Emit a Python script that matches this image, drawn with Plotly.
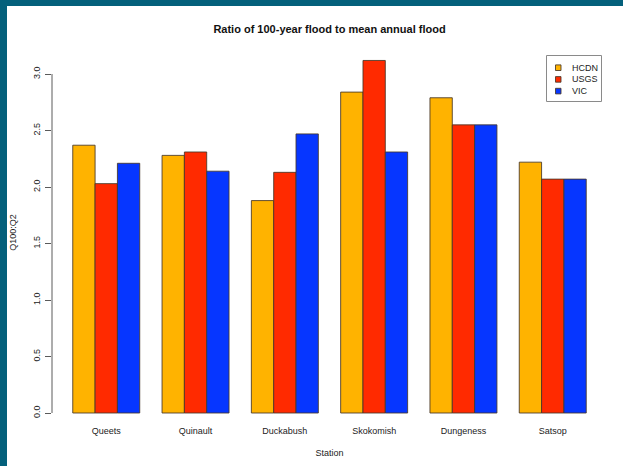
import plotly.graph_objects as go

# Peak-flow ratio (Q100 / Q2) by station and data source
stations = ["Queets", "Quinault", "Duckabush", "Skokomish", "Dungeness", "Satsop"]
series_names = ["HCDN", "USGS", "VIC"]
hcdn = [2.37, 2.28, 1.88, 2.84, 2.79, 2.22]
usgs = [2.03, 2.31, 2.13, 3.12, 2.55, 2.07]
vic = [2.21, 2.14, 2.47, 2.31, 2.55, 2.07]
y_ticks = [0.0, 0.5, 1.0, 1.5, 2.0, 2.5, 3.0]
y_tick_labels = ["0.0", "0.5", "1.0", "1.5", "2.0", "2.5", "3.0"]

colors = ["#FFB300", "#FF2A00", "#0636FF"]
edge = "rgba(70,55,40,0.85)"
frame = "#04607B"
font_family = "Arial, Liberation Sans, sans-serif"

# Canvas / plot-area geometry (pixels)
W_PX, H_PX = 623, 466
M_L, M_R, M_T, M_B = 52, 16, 46, 47
PW = W_PX - M_L - M_R
PH = H_PX - M_T - M_B
Y_RANGE = [-0.053, 3.248]
X_RANGE = [-0.6075, 5.6075]


def px_x(px):
    return (px - M_L) / PW


def px_y(py):
    return (H_PX - M_B - py) / PH


def val_y(v):
    return (v - Y_RANGE[0]) / (Y_RANGE[1] - Y_RANGE[0])


fig = go.Figure()
for name, vals, col in zip(series_names, [hcdn, usgs, vic], colors):
    fig.add_trace(go.Bar(
        x=stations, y=vals, name=name,
        marker=dict(color=col, line=dict(color=edge, width=1)),
        showlegend=False,
    ))

shapes = []
# left axis line spanning the tick range
shapes.append(dict(type="line", xref="paper", yref="paper",
                   x0=0, x1=0, y0=val_y(y_ticks[0]), y1=val_y(y_ticks[-1]),
                   line=dict(color="#5a5a5a", width=1)))
# outer frame strips (left and top)
shapes.append(dict(type="rect", xref="paper", yref="paper", layer="above",
                   x0=px_x(0), x1=px_x(7), y0=px_y(H_PX), y1=px_y(0),
                   fillcolor=frame, line=dict(width=0)))
shapes.append(dict(type="rect", xref="paper", yref="paper", layer="above",
                   x0=px_x(0), x1=px_x(W_PX), y0=px_y(6), y1=px_y(0),
                   fillcolor=frame, line=dict(width=0)))

# legend box
shapes.append(dict(type="rect", xref="paper", yref="paper",
                   x0=px_x(546.5), x1=px_x(601.5), y0=px_y(101.5), y1=px_y(55.5),
                   fillcolor="white", line=dict(color="#8a8a8a", width=1)))
annotations = []
for i, (name, col) in enumerate(zip(series_names, colors)):
    cy = 67.7 + i * 11.7
    shapes.append(dict(type="rect", xref="paper", yref="paper",
                       x0=px_x(555.5), x1=px_x(561), y0=px_y(cy + 2.8), y1=px_y(cy - 2.8),
                       fillcolor=col, line=dict(color=edge, width=1)))
    annotations.append(dict(xref="paper", yref="paper", x=px_x(569.5), y=px_y(cy),
                            xanchor="left", yanchor="middle", showarrow=False,
                            text=name, font=dict(size=9, color="#222", family=font_family)))

fig.update_layout(
    width=W_PX, height=H_PX,
    margin=dict(l=M_L, r=M_R, t=M_T, b=M_B, pad=0, autoexpand=False),
    paper_bgcolor="white", plot_bgcolor="white",
    barmode="group", bargap=0.25, bargroupgap=0,
    font=dict(family=font_family, size=9, color="#222"),
    title=dict(text="<b>Ratio of 100-year flood to mean annual flood</b>",
               x=0.5, xref="paper", y=1 - 29.5 / H_PX, yref="container",
               xanchor="center", yanchor="middle",
               font=dict(size=11, color="#111", family=font_family)),
    xaxis=dict(range=X_RANGE, showline=False, showgrid=False, zeroline=False,
               ticks="", tickfont=dict(size=9), ticklabelstandoff=5, automargin=False,
               title=dict(text="Station", font=dict(size=9), standoff=14)),
    yaxis=dict(range=Y_RANGE, showline=False, showgrid=False, zeroline=False,
               tickvals=y_ticks, ticktext=y_tick_labels, tickangle=-90,
               ticks="outside", ticklen=6, tickcolor="#5a5a5a", tickwidth=1,
               tickfont=dict(size=9), ticklabelstandoff=1, automargin=False,
               title=dict(text="Q100:Q2", font=dict(size=9), standoff=14)),
    shapes=shapes, annotations=annotations,
)

fig.write_html("out.html")
